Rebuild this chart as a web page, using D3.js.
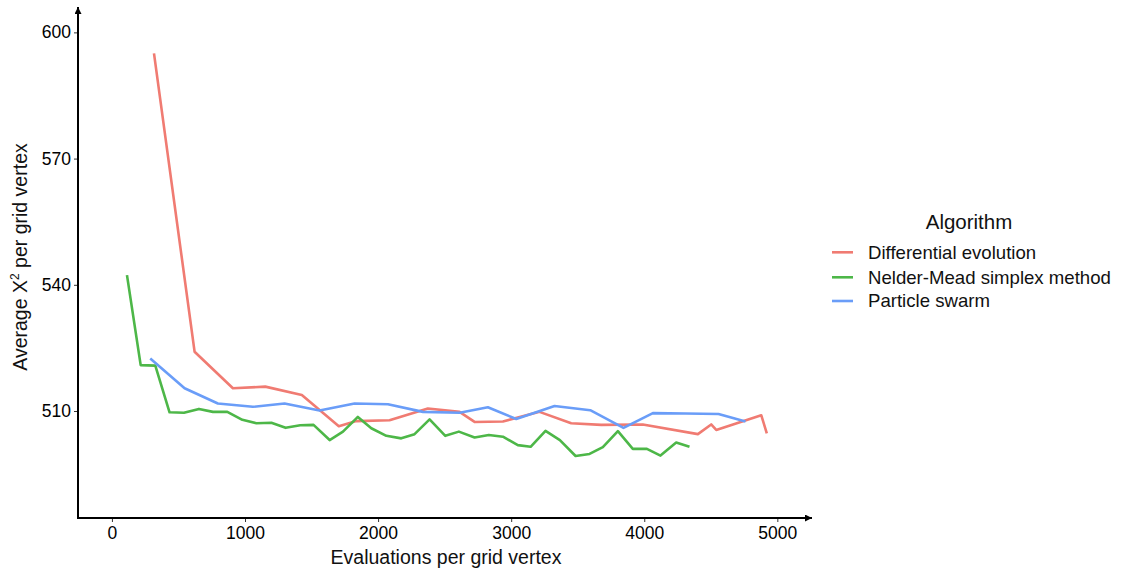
<!DOCTYPE html>
<html>
<head>
<meta charset="utf-8">
<script src="https://cdn.jsdelivr.net/npm/d3@7"></script>
<style>
  html, body { margin: 0; padding: 0; background: #fff; }
  svg { display: block; font-family: "Liberation Sans", Arial, sans-serif; }
</style>
</head>
<body>
<svg id="chart" width="1123" height="571"></svg>
<script>
// Average chi-square per grid vertex vs. evaluations, per optimisation algorithm
const algorithms = ["Differential evolution", "Nelder-Mead simplex method", "Particle swarm"];
const colors = ["#F07B72", "#4DB748", "#6A9DF8"];

const deEvals = [316, 621, 909, 1152, 1427, 1705, 1836, 2086, 2374, 2612, 2725, 2938, 3213, 3451, 3677, 3989, 4403, 4503, 4541, 4879, 4921];
const deChi2  = [595.0, 524.1, 515.4, 515.8, 513.8, 506.4, 507.6, 507.8, 510.6, 509.8, 507.4, 507.5, 509.8, 507.1, 506.7, 506.8, 504.5, 506.8, 505.5, 509.0, 504.7];

const nmEvals = [113, 216, 326, 433, 541, 654, 759, 867, 980, 1085, 1198, 1305, 1415, 1515, 1636, 1736, 1848, 1949, 2062, 2174, 2274, 2387, 2505, 2607, 2725, 2832, 2938, 3050, 3146, 3258, 3366, 3484, 3589, 3689, 3802, 3914, 4020, 4122, 4240, 4340];
const nmChi2  = [542.3, 520.9, 520.8, 509.7, 509.6, 510.5, 509.8, 509.8, 507.9, 507.1, 507.2, 506.0, 506.6, 506.7, 503.1, 505.1, 508.6, 505.9, 504.1, 503.5, 504.5, 508.0, 504.1, 505.1, 503.7, 504.3, 503.9, 501.9, 501.5, 505.3, 503.1, 499.3, 499.8, 501.4, 505.2, 501.0, 501.0, 499.4, 502.5, 501.5];

const psEvals = [288, 546, 796, 1059, 1297, 1560, 1823, 2074, 2337, 2613, 2825, 3038, 3326, 3594, 3844, 4065, 4310, 4558, 4761];
const psChi2  = [522.5, 515.4, 511.8, 511.0, 511.8, 510.1, 511.8, 511.6, 509.8, 509.6, 510.9, 508.1, 511.2, 510.2, 506.0, 509.5, 509.4, 509.3, 507.5];

const xTicks = [0, 1000, 2000, 3000, 4000, 5000];
const yTicks = [510, 540, 570, 600];

const series = [
  { name: algorithms[0], color: colors[0], xs: deEvals, ys: deChi2 },
  { name: algorithms[1], color: colors[1], xs: nmEvals, ys: nmChi2 },
  { name: algorithms[2], color: colors[2], xs: psEvals, ys: psChi2 }
];

const svg = d3.select("#chart");
const panel = { left: 78, right: 811, top: 6, bottom: 518 };

const x = d3.scaleLinear().domain([-255, 5253]).range([panel.left, panel.right]);
const y = d3.scaleLinear().domain([484.57, 606.27]).range([panel.bottom, panel.top]);

// arrow heads for axis lines
const defs = svg.append("defs");
defs.append("marker")
  .attr("id", "arrow")
  .attr("viewBox", "0 0 10 10")
  .attr("refX", 10).attr("refY", 5)
  .attr("markerWidth", 7).attr("markerHeight", 7)
  .attr("markerUnits", "userSpaceOnUse")
  .attr("orient", "auto")
  .append("path").attr("d", "M0,0 L10,5 L0,10 Z").attr("fill", "#000");

// lines
const line = d3.line().x(d => x(d[0])).y(d => y(d[1]));
const plot = svg.append("g");
series.forEach(s => {
  plot.append("path")
    .datum(s.xs.map((v, i) => [v, s.ys[i]]))
    .attr("d", line)
    .attr("fill", "none")
    .attr("stroke", s.color)
    .attr("stroke-width", 2.6)
    .attr("stroke-linejoin", "round");
});

// x axis
const xAxis = svg.append("g")
  .attr("transform", `translate(0,${panel.bottom})`)
  .call(d3.axisBottom(x).tickValues(xTicks).tickSize(4).tickPadding(5).tickFormat(d3.format("d")));
xAxis.select(".domain").remove();
xAxis.selectAll(".tick line").attr("stroke", "#333").attr("stroke-width", 1);
xAxis.selectAll(".tick text").attr("font-size", 17.5).attr("fill", "#000")
  .attr("font-family", "Liberation Sans, Arial, sans-serif");

// y axis
const yAxis = svg.append("g")
  .attr("transform", `translate(${panel.left},0)`)
  .call(d3.axisLeft(y).tickValues(yTicks).tickSize(4).tickPadding(3));
yAxis.select(".domain").remove();
yAxis.selectAll(".tick line").attr("stroke", "#333").attr("stroke-width", 1);
yAxis.selectAll(".tick text").attr("font-size", 17.5).attr("fill", "#000")
  .attr("font-family", "Liberation Sans, Arial, sans-serif");

// axis lines with arrows
svg.append("line")
  .attr("x1", panel.left).attr("y1", panel.bottom)
  .attr("x2", panel.right + 1).attr("y2", panel.bottom)
  .attr("stroke", "#000").attr("stroke-width", 2)
  .attr("marker-end", "url(#arrow)");
svg.append("line")
  .attr("x1", panel.left).attr("y1", panel.bottom + 1)
  .attr("x2", panel.left).attr("y2", 7)
  .attr("stroke", "#000").attr("stroke-width", 2)
  .attr("marker-end", "url(#arrow)");

// axis titles
svg.append("text")
  .attr("x", 446).attr("y", 564)
  .attr("text-anchor", "middle")
  .attr("font-size", 19.5).attr("fill", "#111")
  .text("Evaluations per grid vertex");

const yTitle = svg.append("text")
  .attr("transform", "translate(27,257) rotate(-90)")
  .attr("text-anchor", "middle")
  .attr("font-size", 19.5).attr("fill", "#111");
yTitle.append("tspan").text("Average X");
yTitle.append("tspan").attr("font-size", 12).attr("dy", -8).text("2");
yTitle.append("tspan").attr("dy", 8).text(" per grid vertex");

// legend
const legend = svg.append("g");
legend.append("text")
  .attr("x", 969).attr("y", 229)
  .attr("text-anchor", "middle")
  .attr("font-size", 20.5).attr("fill", "#111")
  .text("Algorithm");

const keyY = [252.3, 277.3, 301];
series.forEach((s, i) => {
  legend.append("line")
    .attr("x1", 832).attr("x2", 853)
    .attr("y1", keyY[i]).attr("y2", keyY[i])
    .attr("stroke", s.color).attr("stroke-width", 2.6);
  legend.append("text")
    .attr("x", 868).attr("y", keyY[i] + 6.3)
    .attr("font-size", 18.6).attr("fill", "#111")
    .text(s.name);
});
</script>
</body>
</html>
